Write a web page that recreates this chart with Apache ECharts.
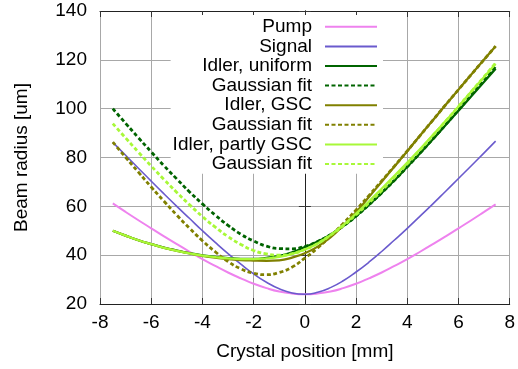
<!DOCTYPE html>
<html>
<head>
<meta charset="utf-8">
<script src="https://cdn.jsdelivr.net/npm/echarts@6/dist/echarts.min.js"></script>
<style>html,body{margin:0;padding:0;background:#fff}#c{width:518px;height:369px}</style>
</head>
<body>
<div id="c"></div>
<script>
const zs = [-7.5,-7,-6.5,-6,-5.5,-5,-4.5,-4,-3.5,-3,-2.5,-2,-1.5,-1,-0.5,0,0.5,1,1.5,2,2.5,3,3.5,4,4.5,5,5.5,6,6.5,7,7.45];
const pump = [61.2,57.7,54.3,51.0,47.7,44.5,41.4,38.4,35.6,32.9,30.5,28.3,26.5,25.1,24.3,24.0,24.3,25.1,26.5,28.3,30.5,32.9,35.6,38.4,41.4,44.5,47.7,51.0,54.3,57.7,60.8];
const signal = [86.2,80.9,75.6,70.3,65.1,60.0,55.0,50.0,45.2,40.6,36.3,32.3,28.9,26.2,24.5,24.0,24.8,26.7,29.5,33.1,37.1,41.5,46.2,51.0,56.0,61.0,66.2,71.4,76.6,81.9,86.7];
const idlerUniform = [50.0,48.0,46.1,44.5,43.1,41.9,40.8,39.9,39.3,38.8,38.5,38.5,38.9,39.7,41.2,43.3,45.6,48.4,51.9,56.0,60.6,65.5,70.7,76.2,81.8,87.5,93.3,99.2,105.1,111.0,116.4];
const fitUniform = [100.0,94.0,88.1,82.3,76.6,71.2,65.9,61.0,56.4,52.2,48.6,45.8,43.7,42.7,42.6,43.6,45.6,48.4,51.9,56.0,60.6,65.5,70.7,76.2,81.8,87.6,93.5,99.5,105.6,111.7,117.3];
const idlerGSC = [50.0,48.0,46.1,44.5,43.0,41.8,40.7,39.7,39.0,38.4,38.0,37.8,37.7,37.9,39.0,40.8,43.5,47.3,52.2,57.6,63.8,70.1,76.3,82.6,89.0,95.3,101.6,107.8,114.0,120.1,125.6];
const fitGSC = [86.3,80.1,74.0,67.9,62.1,56.4,51.0,45.9,41.4,37.4,34.4,32.6,32.0,32.9,35.1,38.8,43.0,47.8,53.0,58.5,64.4,70.4,76.5,82.7,89.0,95.3,101.6,107.8,114.0,120.1,125.6];
const idlerPartly = [50.0,48.0,46.1,44.5,43.0,41.8,40.7,39.8,39.2,38.7,38.4,38.4,38.7,39.3,40.5,42.3,44.8,48.2,52.3,57.0,62.0,67.2,72.5,77.9,83.5,89.2,95.0,100.9,107.0,113.0,118.4];
const fitPartly = [93.9,88.0,82.2,76.5,71.0,65.7,60.6,55.8,51.5,47.6,44.4,41.9,40.5,40.0,40.6,42.3,44.8,48.2,52.1,56.6,61.4,66.5,71.9,77.4,83.1,89.0,94.9,100.9,107.0,113.1,118.7];
const xTicks = {min: -8, max: 8, interval: 2};
const yTicks = {min: 20, max: 140, interval: 20};

const FONT = 'Liberation Sans';
function mk(name, vals, color, width, dashed) {
  return {
    name: name, type: 'line', data: zs.map((z, i) => [z, vals[i]]),
    symbol: 'none', showSymbol: false, smooth: 0.5,
    lineStyle: {color: color, width: width, type: dashed ? [4, 2.5] : 'solid'},
    itemStyle: {color: color}, z: 2
  };
}
const series = [
  mk('Pump', pump, '#ee82ee', 2, false),
  mk('Signal', signal, '#6a5acd', 1.6, false),
  mk('Idler, uniform', idlerUniform, '#006400', 2.3, false),
  mk('Gaussian fit#1', fitUniform, '#006400', 2.8, true),
  mk('Idler, GSC', idlerGSC, '#808000', 2.3, false),
  mk('Gaussian fit#2', fitGSC, '#808000', 2.8, true),
  mk('Idler, partly GSC', idlerPartly, '#a8f838', 2.3, false),
  mk('Gaussian fit#3', fitPartly, '#a8f838', 2.8, true)
];
const axisCommon = {
  axisLine: {show: true, lineStyle: {color: '#222', width: 1}},
  axisTick: {show: true, inside: true, length: 6, lineStyle: {color: '#333'}},
  splitLine: {show: false}
};
const chart = echarts.init(document.getElementById('c'));
chart.setOption({
  animation: false,
  backgroundColor: '#fff',
  grid: {left: 100, right: 8, top: 11, bottom: 65, show: false},
  legend: {
    orient: 'vertical', align: 'right', right: 135, top: 15,
    padding: [2, 5, 0, 2], itemGap: 0, itemWidth: 52, itemHeight: 14,
    backgroundColor: '#fff', z: 1,
    itemStyle: {opacity: 0, borderWidth: 0},
    data: series.map(s => s.name),
    formatter: n => n.split('#')[0],
    textStyle: {fontFamily: FONT, fontSize: 19, color: '#000', lineHeight: 19.6, padding: [0, 8, 0, 0]},
    selectedMode: false
  },
  xAxis: [
    Object.assign({type: 'value', position: 'bottom'}, xTicks, axisCommon, {
      splitLine: {show: true, lineStyle: {color: '#a8a8a8', width: 1}},
      axisLabel: {fontFamily: FONT, fontSize: 19, color: '#000', margin: 9},
      name: 'Crystal position [mm]', nameLocation: 'middle', nameGap: 38,
      nameTextStyle: {fontFamily: FONT, fontSize: 19, color: '#000'}
    }),
    Object.assign({type: 'value', position: 'top'}, xTicks, axisCommon, {axisLabel: {show: false}})
  ],
  yAxis: [
    Object.assign({type: 'value', position: 'left'}, yTicks, axisCommon, {
      splitLine: {show: true, lineStyle: {color: '#a8a8a8', width: 1}},
      axisLabel: {fontFamily: FONT, fontSize: 19, color: '#000', margin: 13},
      name: 'Beam radius [um]', nameLocation: 'middle', nameGap: 69,
      nameTextStyle: {fontFamily: FONT, fontSize: 19, color: '#000'}
    }),
    Object.assign({type: 'value', position: 'right'}, yTicks, axisCommon, {axisLabel: {show: false}})
  ],
  series: series
});
</script>
</body>
</html>
